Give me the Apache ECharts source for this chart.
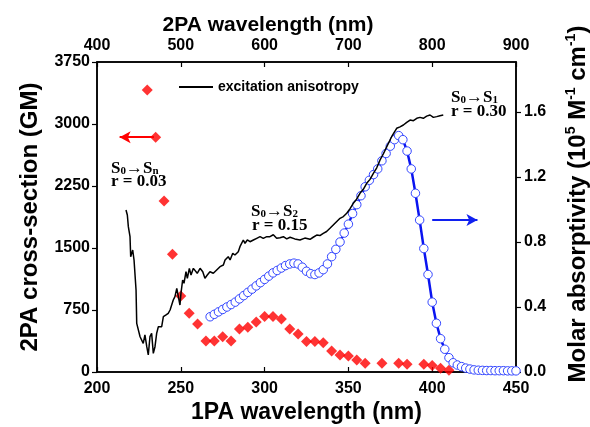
<!DOCTYPE html>
<html>
<head>
<meta charset="utf-8">
<title>2PA / 1PA spectra</title>
<script src="https://cdn.jsdelivr.net/npm/echarts@6/dist/echarts.min.js"></script>
<style>
	html, body { margin: 0; padding: 0; background: #fff; }
	#chart { width: 590px; height: 427px; }
</style>
</head>
<body>
<div id="chart"></div>
<script type="text/javascript">
// excitation anisotropy (1PA wavelength, plotted on the GM scale)
var anisWl = [217.3, 218.1, 218.7, 219.7, 220.1, 221.3, 222.1, 223.3, 223.7, 224.6, 225.7, 226.7, 227.6, 228.6, 229.7, 230.6,
	231.6, 232.6, 233.6, 234.6, 235.6, 236.6, 237.6, 238.6, 239.6, 241.2, 242.5, 243.6, 245.5, 246.5, 247.6, 248.5,
	249.5, 250.1, 251.1, 251.9, 253.1, 253.9, 255.1, 256.1, 257.5, 258.5, 259.8, 261.5, 263.1, 264.4, 265.8, 267.4,
	269.4, 271.4, 273.4, 275.4, 276.4, 277.4, 278.3, 279.4, 281, 282.3, 284.3, 285.3, 286.3, 287.3, 288.3, 289.7,
	291.3, 293.3, 295.3, 297.3, 299.2, 301.3, 303.2, 305.2, 307.2, 309.2, 311.2, 313.2, 315.2, 318, 321.1, 324,
	327.1, 329, 331.1, 333, 335, 337, 339, 342, 345, 347, 349, 351, 352.9, 354.9, 356.9, 358.9, 360.9, 362.9,
	364.9, 366.9, 368.9, 370.9, 372.9, 375.8, 378.8, 380.8, 382.8, 384.8, 386.8, 388.8, 390.8, 392.7, 394.7, 396.7,
	398.7, 400.7, 402.7, 404.6, 406.6];
var anisVal = [1960, 1899, 1758, 1637, 1395, 1476, 1355, 992, 589, 569, 427, 408, 347, 448, 306, 206,
	427, 468, 226, 306, 468, 548, 569, 548, 669, 690, 710, 750, 871, 911, 1012, 992,
	810, 952, 1113, 1073, 1213, 1133, 1254, 1173, 1254, 1234, 1194, 1254, 1213, 1133, 1173, 1213,
	1194, 1234, 1274, 1294, 1355, 1334, 1395, 1355, 1436, 1415, 1455, 1516, 1536, 1597, 1557, 1597,
	1576, 1597, 1617, 1637, 1617, 1637, 1637, 1660, 1617, 1625, 1637, 1610, 1630, 1610, 1597, 1620,
	1605, 1630, 1657, 1650, 1678, 1700, 1738, 1799, 1859, 1880, 1920, 1975, 2041, 2090, 2162, 2210, 2282, 2330,
	2404, 2470, 2565, 2640, 2726, 2846, 2948, 2965, 2988, 3020, 3048, 3040, 3069, 3080, 3069, 3095,
	3109, 3080, 3089, 3100, 3109];

// 2PA cross-section (2PA wavelength, GM)
var tpaWl = [460, 470, 480, 490, 500, 510, 520, 530, 540, 550, 560, 570, 580, 590, 600, 610, 620,
	630, 640, 650, 660, 670, 680, 690, 700, 710, 720, 740, 760, 770, 790, 800, 810, 820];
var tpaGM = [3410, 2840, 2070, 1425, 920, 710, 580, 375, 375, 425, 375, 520, 540, 605, 672, 672, 640,
	520, 460, 370, 370, 355, 255, 205, 195, 145, 105, 105, 105, 95, 95, 80, 45, 20];

// molar absorptivity (1PA wavelength, 10^5 M^-1 cm^-1)
var absWl = [267.5, 270, 272.5, 275, 277.5, 280, 282.5, 285, 287.5, 290, 292.5, 295, 297.5, 300, 302.5, 305,
	307.5, 310, 312.5, 315, 317.5, 320, 322.5, 325, 327.5, 330, 332.5, 335, 337.5, 340, 342.5, 345,
	347.5, 350, 352.5, 355, 357.5, 360, 362.5, 365, 367.5, 370, 372.5, 375, 377.5, 380, 382.5, 385,
	387.5, 390, 392.5, 395, 397.5, 400, 402.5, 405, 407.5, 410, 412.5, 415, 417.5, 420, 422.5, 425,
	427.5, 430, 432.5, 435, 437.5, 440, 442.5, 445, 447.5, 450];
var absVal = [0.34, 0.355, 0.37, 0.385, 0.4, 0.415, 0.43, 0.45, 0.47, 0.49, 0.51, 0.53, 0.55, 0.57, 0.59, 0.61,
	0.625, 0.64, 0.655, 0.665, 0.67, 0.665, 0.645, 0.62, 0.605, 0.6, 0.61, 0.63, 0.665, 0.71, 0.755, 0.8,
	0.855, 0.91, 0.975, 1.03, 1.085, 1.14, 1.18, 1.215, 1.25, 1.3, 1.345, 1.39, 1.43, 1.455, 1.43, 1.36,
	1.25, 1.1, 0.935, 0.76, 0.6, 0.43, 0.3, 0.205, 0.14, 0.088, 0.057, 0.043, 0.033, 0.024, 0.018, 0.013,
	0.011, 0.01, 0.009, 0.009, 0.008, 0.008, 0.008, 0.007, 0.007, 0.007];

var sans = 'Liberation Sans, Arial, sans-serif';
var serif = 'Liberation Serif, Times New Roman, serif';

function pairs(xs, ys) {
	var out = [];
	for (var i = 0; i < xs.length; i++) {
		out.push([xs[i], ys[i]]);
	}
	return out;
}

var labelStyle = { color: '#000', fontSize: 16, fontWeight: 'bold', fontFamily: sans };
var nameStyle = { color: '#000', fontSize: 23, fontWeight: 'bold', fontFamily: sans };
var lineStyle = { color: '#000', width: 1.5 };

// S0→Sx labels, rich text for the subscripts
var annRich = {
	b: { fontSize: 17, fontWeight: 'bold', fontFamily: serif, color: '#000', lineHeight: 17, verticalAlign: 'top' },
	s: { fontSize: 11, fontWeight: 'bold', fontFamily: serif, color: '#000', lineHeight: 11, verticalAlign: 'bottom', padding: [9, 0, 0, 0] }
};
function ann(x, y, txt) {
	return { type: 'text', left: x, top: y, style: { text: txt, rich: annRich } };
}
function annR(x, y, txt) {
	return { type: 'text', left: x, top: y, style: { text: txt, fontSize: 17, fontWeight: 'bold', fontFamily: serif, fill: '#000' } };
}

var myChart = echarts.init(document.getElementById('chart'));
var option = {
	animation: false,
	backgroundColor: '#fff',
	grid: {
		left: 97, right: 74, top: 62, bottom: 55,
		show: true, borderColor: '#000', borderWidth: 1.5,
		containLabel: false, outerBoundsMode: 'none'
	},
	legend: {
		data: ['excitation anisotropy'],
		left: 174, top: 75,
		icon: 'rect',
		itemWidth: 34, itemHeight: 2, itemGap: 5,
		textStyle: { color: '#000', fontSize: 14, fontWeight: 'bold', fontFamily: sans }
	},
	xAxis: [
		{
			type: 'value', position: 'bottom', min: 200, max: 450, interval: 50,
			name: '1PA wavelength (nm)', nameLocation: 'middle', nameGap: 29, nameMoveOverlap: false,
			nameTextStyle: nameStyle,
			axisLine: { onZero: false, lineStyle: lineStyle },
			axisTick: { inside: true, length: 5, lineStyle: { color: '#000', width: 1.2 } },
			axisLabel: Object.assign({ margin: 9 }, labelStyle),
			splitLine: { show: false }
		},
		{
			type: 'value', position: 'top', min: 400, max: 900, interval: 100,
			name: '2PA wavelength (nm)', nameLocation: 'middle', nameGap: 26, nameMoveOverlap: false,
			nameTextStyle: Object.assign({}, nameStyle, { fontSize: 21, padding: [0, 77, 0, 0] }),
			axisLine: { onZero: false, lineStyle: lineStyle },
			axisTick: { inside: true, length: 5, lineStyle: { color: '#000', width: 1.2 } },
			axisLabel: Object.assign({ margin: 8 }, labelStyle),
			splitLine: { show: false }
		}
	],
	yAxis: [
		{
			type: 'value', position: 'left', min: 0, max: 3750, interval: 750,
			name: '2PA cross-section (GM)', nameLocation: 'middle', nameGap: 55, nameMoveOverlap: false,
			nameTextStyle: Object.assign({}, nameStyle, { fontSize: 24 }),
			axisLine: { onZero: false, lineStyle: lineStyle },
			axisTick: { inside: false, length: 5, lineStyle: { color: '#000', width: 1.2 } },
			axisLabel: Object.assign({
				margin: 7,
				formatter: function (v) { return String(v); }
			}, labelStyle),
			splitLine: { show: false }
		},
		{
			type: 'value', position: 'right', min: 0, max: 1.908, interval: 0.4,
			name: '{t|Molar absorptivity (10}{u|5}{t| M}{u|-1}{t| cm}{u|-1}{t|)}',
			nameLocation: 'middle', nameGap: 48, nameRotate: 90, nameMoveOverlap: false,
			nameTextStyle: {
				padding: [0, 0, 0, 26],
				rich: {
					t: { color: '#000', fontSize: 24, fontWeight: 'bold', fontFamily: sans, lineHeight: 26, verticalAlign: 'bottom' },
					u: { color: '#000', fontSize: 14, fontWeight: 'bold', fontFamily: sans, lineHeight: 14, verticalAlign: 'top' }
				}
			},
			axisLine: { onZero: false, lineStyle: lineStyle },
			axisTick: { inside: false, length: 5, lineStyle: { color: '#000', width: 1.2 } },
			axisLabel: Object.assign({
				margin: 8, showMaxLabel: false,
				formatter: function (v) { return v.toFixed(1); }
			}, labelStyle),
			splitLine: { show: false }
		}
	],
	graphic: [
		ann(111, 157, '{b|S}{s|0}{b|→S}{s|n}'),
		annR(111, 173, 'r = 0.03'),
		ann(251, 200, '{b|S}{s|0}{b|→S}{s|2}'),
		annR(252, 217, 'r = 0.15'),
		ann(451, 86, '{b|S}{s|0}{b|→S}{s|1}'),
		annR(451, 103, 'r = 0.30')
	],
	series: [
		{
			name: '2PA cross-section',
			type: 'scatter',
			xAxisIndex: 1, yAxisIndex: 0,
			symbol: 'diamond', symbolSize: 11,
			itemStyle: { color: '#ff0000' },
			data: pairs(tpaWl, tpaGM),
			z: 2,
			markLine: {
				silent: true,
				symbol: ['arrow', 'none'], symbolSize: [9, 11],
				label: { show: false },
				lineStyle: { color: '#ff0000', width: 2, type: 'solid' },
				data: [[{ coord: [427, 2840] }, { coord: [468, 2840] }]]
			}
		},
		{
			name: 'molar absorptivity',
			type: 'line',
			xAxisIndex: 0, yAxisIndex: 1,
			symbol: 'circle', symbolSize: 8.5,
			lineStyle: { color: '#0a14f0', width: 2.5 },
			itemStyle: { color: '#fff', borderColor: '#3346ff', borderWidth: 1 },
			data: pairs(absWl, absVal),
			z: 3,
			markLine: {
				silent: true,
				symbol: ['none', 'arrow'], symbolSize: [9, 11],
				label: { show: false },
				lineStyle: { color: '#1020f0', width: 2, type: 'solid' },
				data: [[{ coord: [400, 0.935] }, { coord: [427, 0.935] }]]
			}
		},
		{
			name: 'excitation anisotropy',
			type: 'line',
			xAxisIndex: 0, yAxisIndex: 0,
			symbol: 'none',
			lineStyle: { color: '#000', width: 1.5 },
			itemStyle: { color: '#000' },
			data: pairs(anisWl, anisVal),
			z: 4
		}
	]
};
myChart.setOption(option);
</script>
</body>
</html>
